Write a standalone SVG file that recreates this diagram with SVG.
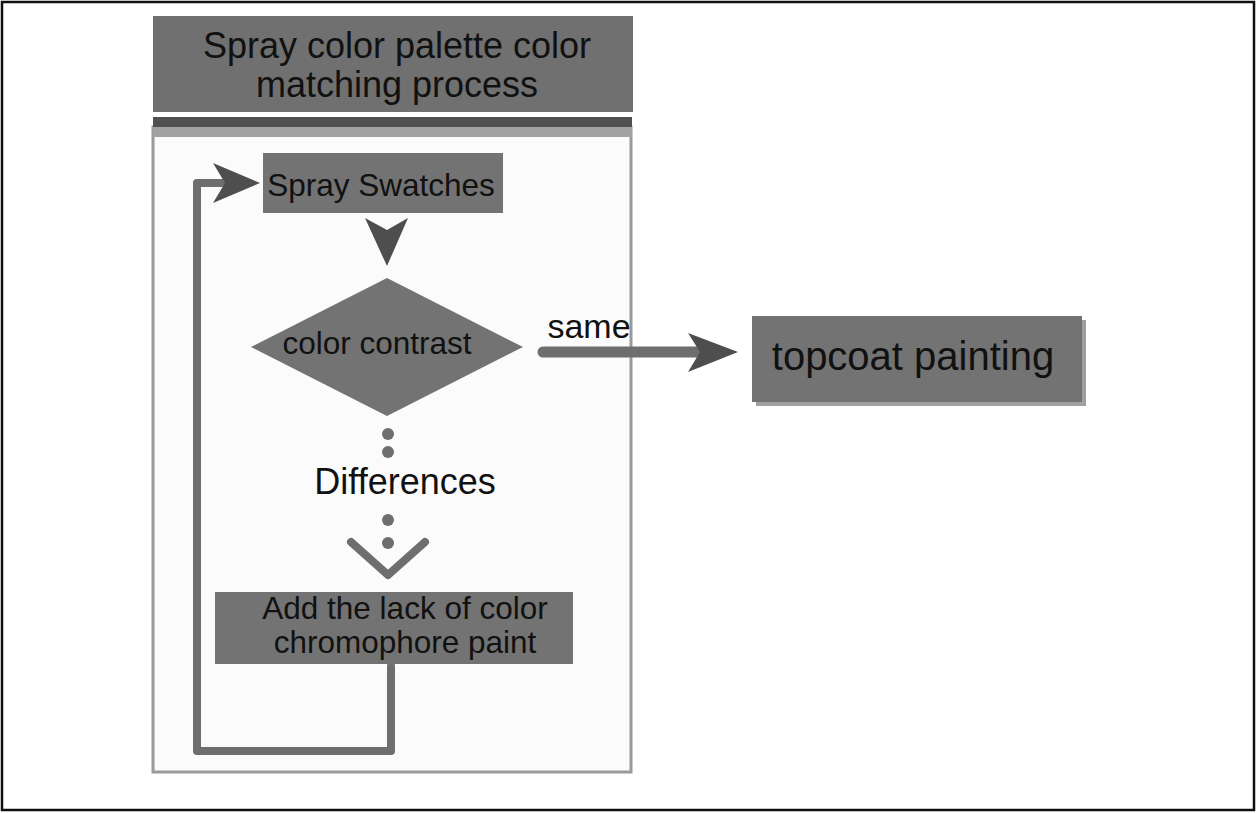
<svg xmlns="http://www.w3.org/2000/svg" width="1256" height="813" viewBox="0 0 1256 813">
<style>
text{font-family:"Liberation Sans",Arial,sans-serif;fill:#111;text-anchor:middle}
.box{fill:#737373}
.ln{fill:none;stroke:#6e6e6e;stroke-width:8;stroke-linecap:round;stroke-linejoin:round}
.head{fill:#4e4e4e}
.dot{fill:#6e6e6e}
</style>
<rect x="0" y="0" width="1256" height="813" fill="#fff"/>
<rect x="2" y="2" width="1252" height="808" fill="#fff" stroke="#111" stroke-width="2.5"/>
<g id="container">
<rect x="153" y="127" width="478" height="645" fill="#fbfbfb" stroke="#9a9a9a" stroke-width="3"/>
<rect x="153" y="117" width="479" height="10" fill="#505050"/>
<rect x="153" y="127" width="479" height="10" fill="#a2a2a2"/>
</g>
<g id="title">
<rect x="153" y="16" width="480" height="96" fill="#707070"/>
<text x="397" y="58" font-size="36">Spray color palette color</text>
<text x="397" y="97" font-size="36">matching process</text>
</g>
<g id="connectors">
<path class="ln" d="M391 666 V751 H197 V183 H222"/>
<path class="head" d="M260 183 L213 163 L225 183 L213 203 Z"/>
<path class="head" d="M387 266 L365 218 L387 230 L408 218 Z"/>
<circle class="dot" cx="388" cy="434" r="6"/>
<circle class="dot" cx="388" cy="452" r="6"/>
<circle class="dot" cx="388" cy="520" r="6"/>
<circle class="dot" cx="388" cy="543" r="6"/>
<path class="ln" d="M351 542 L388 575 L425 542"/>
<path d="M543 352 H700" fill="none" stroke="#6e6e6e" stroke-width="11" stroke-linecap="round"/>
<path class="head" d="M738 352 L688 333 L700 352 L688 372 Z"/>
<text x="589" y="338" font-size="34">same</text>
<text x="405" y="494" font-size="36">Differences</text>
</g>
<g id="spray-swatches">
<rect class="box" x="263" y="153" width="240" height="60"/>
<text x="381" y="196" font-size="31.5">Spray Swatches</text>
</g>
<g id="color-contrast">
<path class="box" d="M387 278 L523 347 L387 416 L251 347 Z"/>
<text x="377" y="354" font-size="31.5">color contrast</text>
</g>
<g id="add-lack">
<rect class="box" x="215" y="592" width="358" height="72"/>
<text x="405" y="619" font-size="31.5">Add the lack of color</text>
<text x="405" y="653" font-size="31.5">chromophore paint</text>
</g>
<g id="topcoat">
<rect x="756" y="320" width="330" height="86" fill="#a0a0a0"/>
<rect class="box" x="752" y="316" width="330" height="86"/>
<text x="913" y="370" font-size="40">topcoat painting</text>
</g>
</svg>
